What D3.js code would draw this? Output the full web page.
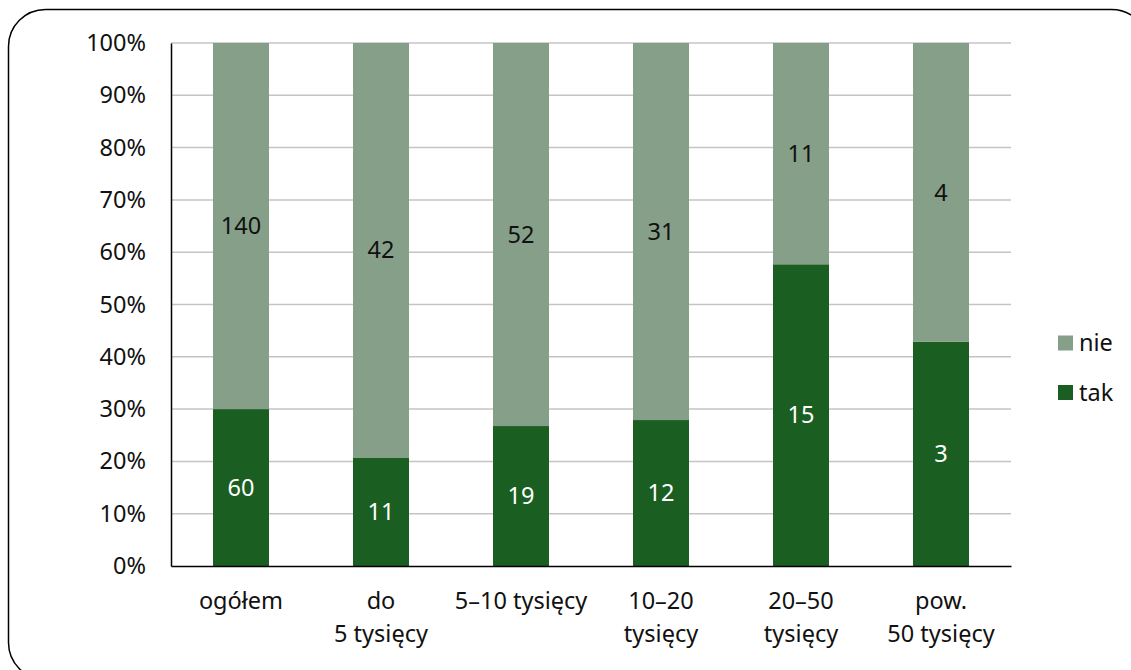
<!DOCTYPE html>
<html>
<head>
<meta charset="utf-8">
<script src="https://cdn.jsdelivr.net/npm/d3@7/dist/d3.min.js"></script>
<style>
  html, body { margin: 0; padding: 0; background: #fff; }
  svg { display: block; font-family: "Noto Sans", "Open Sans", sans-serif; }
</style>
</head>
<body>
<svg id="chart" width="1131" height="670"></svg>
<script>
// Categories (x axis), two-line labels
const categories = ["ogółem", "do\n5 tysięcy", "5–10 tysięcy", "10–20\ntysięcy", "20–50\ntysięcy", "pow.\n50 tysięcy"];
// Counts per answer
const tak = [60, 11, 19, 12, 15, 3];
const nie = [140, 42, 52, 31, 11, 4];
const yTicks = [0, 0.1, 0.2, 0.3, 0.4, 0.5, 0.6, 0.7, 0.8, 0.9, 1];
const seriesNames = ["tak", "nie"];
const colors = { tak: "#1a5e21", nie: "#869f88" };
const FONT = 23.5;

const rows = categories.map((c, i) => ({ cat: c, tak: tak[i], nie: nie[i] }));

const svg = d3.select("#chart");

// Outer rounded frame
svg.append("rect")
  .attr("x", 8.5).attr("y", 9.5)
  .attr("width", 1140).attr("height", 670)
  .attr("rx", 37).attr("ry", 37)
  .attr("fill", "none").attr("stroke", "#000").attr("stroke-width", 1.5);

const plot = { left: 171, right: 1011, top: 43, bottom: 566 };

const x = d3.scaleBand()
  .domain(categories)
  .range([plot.left, plot.right])
  .paddingInner(0.6).paddingOuter(0.3);

const y = d3.scaleLinear().domain([0, 1]).range([plot.bottom, plot.top]);

// Gridlines
svg.append("g")
  .selectAll("line")
  .data(yTicks.filter(t => t > 0))
  .join("line")
  .attr("x1", plot.left).attr("x2", plot.right)
  .attr("y1", d => y(d)).attr("y2", d => y(d))
  .attr("stroke", "#c4c4c4").attr("stroke-width", 1.5);

// Stacked shares
const stack = d3.stack()
  .keys(seriesNames)
  .value((d, k) => d[k] / (d.tak + d.nie));
const layers = stack(rows);

const layerG = svg.append("g").selectAll("g")
  .data(layers)
  .join("g")
  .attr("fill", d => colors[d.key]);

layerG.selectAll("rect")
  .data(d => d)
  .join("rect")
  .attr("x", d => x(d.data.cat))
  .attr("width", x.bandwidth())
  .attr("y", d => y(d[1]))
  .attr("height", d => y(d[0]) - y(d[1]));

// Value labels centred in each segment
layers.forEach(layer => {
  svg.append("g").selectAll("text")
    .data(layer)
    .join("text")
    .attr("x", d => x(d.data.cat) + x.bandwidth() / 2)
    .attr("y", d => y((d[0] + d[1]) / 2))
    .attr("dy", "0.35em")
    .attr("text-anchor", "middle")
    .attr("font-size", FONT)
    .attr("fill", layer.key === "tak" ? "#fff" : "#111")
    .text(d => d.data[layer.key]);
});

// Y axis
const yAxis = d3.axisLeft(y)
  .tickValues(yTicks)
  .tickFormat(d => Math.round(d * 100) + "%")
  .tickSize(0).tickPadding(25);
const yg = svg.append("g").attr("transform", `translate(${plot.left},0)`).call(yAxis);
yg.select(".domain").attr("stroke", "#000").attr("stroke-width", 1.5);
yg.selectAll("text").attr("font-size", FONT).attr("fill", "#111")
  .attr("font-family", "'Noto Sans', 'Open Sans', sans-serif");

// X axis
const xAxis = d3.axisBottom(x).tickSize(0).tickFormat("");
const xg = svg.append("g").attr("transform", `translate(0,${plot.bottom})`).call(xAxis);
xg.select(".domain").attr("stroke", "#000").attr("stroke-width", 1.5);

// Category labels (multi-line)
const catG = svg.append("g");
categories.forEach(c => {
  const t = catG.append("text")
    .attr("x", x(c) + x.bandwidth() / 2)
    .attr("y", 609)
    .attr("text-anchor", "middle")
    .attr("font-size", FONT)
    .attr("fill", "#111");
  c.split("\n").forEach((line, i) => {
    t.append("tspan")
      .attr("x", x(c) + x.bandwidth() / 2)
      .attr("dy", i === 0 ? 0 : 33)
      .text(line);
  });
});

// Legend
const legendItems = ["nie", "tak"];
const lg = svg.append("g");
legendItems.forEach((k, i) => {
  const yy = 343 + i * 49.5;
  lg.append("rect")
    .attr("x", 1058).attr("y", yy - 7.5)
    .attr("width", 15).attr("height", 15)
    .attr("fill", colors[k]);
  lg.append("text")
    .attr("x", 1079).attr("y", yy)
    .attr("dy", "0.35em")
    .attr("font-size", FONT).attr("fill", "#111")
    .text(k);
});
</script>
</body>
</html>
